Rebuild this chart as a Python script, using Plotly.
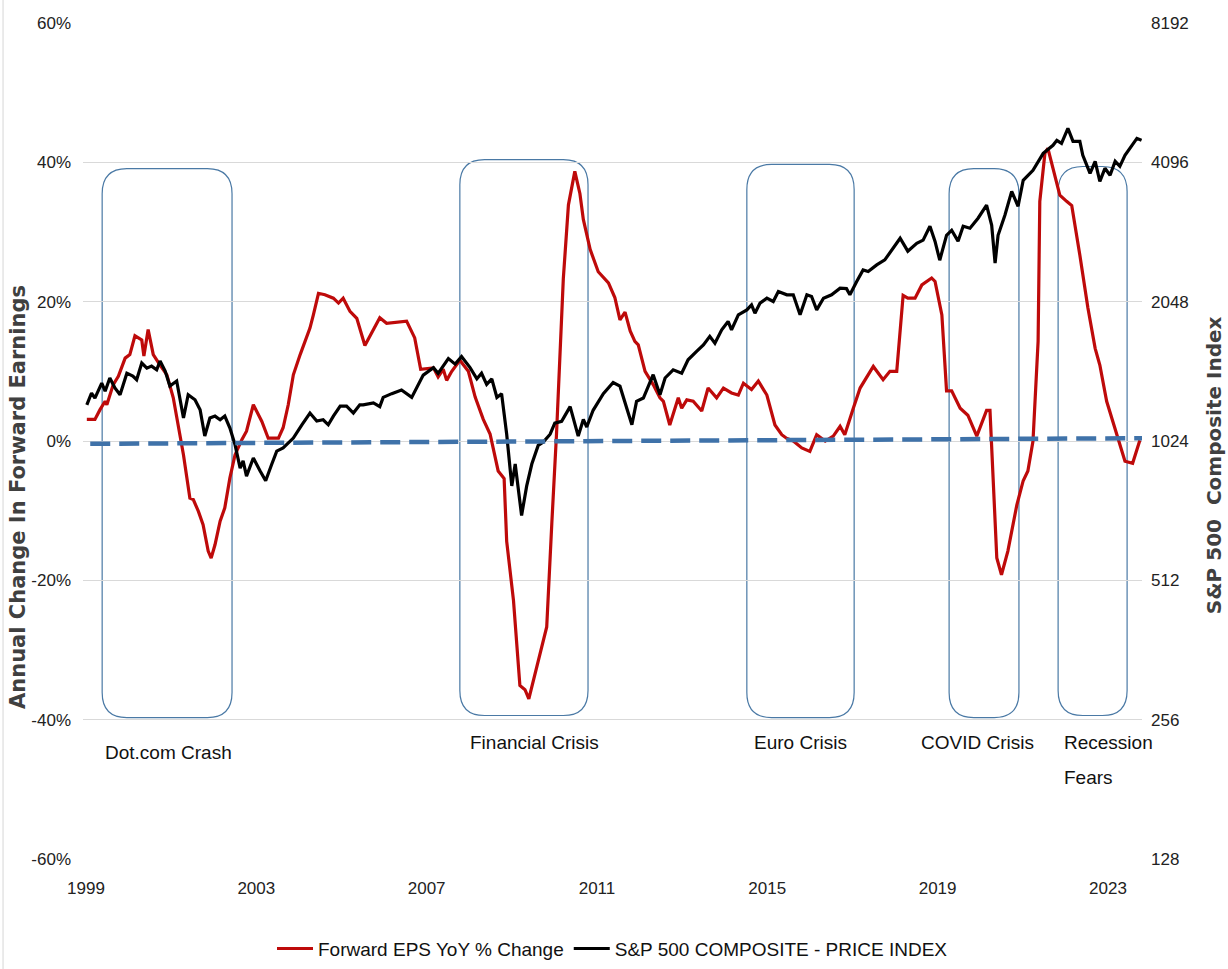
import plotly.graph_objects as go
import math

# ---------------- data ----------------
eps_year = [1999.02, 1999.21, 1999.33, 1999.45, 1999.49, 1999.64, 1999.76, 1999.92, 2000.03, 2000.15,
            2000.31, 2000.36, 2000.46, 2000.58, 2000.74, 2000.90, 2001.05, 2001.17, 2001.29, 2001.44,
            2001.52, 2001.64, 2001.75, 2001.87, 2001.94, 2002.03, 2002.15, 2002.26, 2002.38, 2002.50,
            2002.66, 2002.77, 2002.93, 2003.13, 2003.28, 2003.52, 2003.63, 2003.75, 2003.87, 2004.03,
            2004.14, 2004.26, 2004.34, 2004.46, 2004.61, 2004.81, 2004.93, 2005.04, 2005.20, 2005.36,
            2005.55, 2005.90, 2006.06, 2006.53, 2006.72, 2006.86, 2007.16, 2007.27, 2007.39, 2007.47,
            2007.59, 2007.78, 2007.98, 2008.14, 2008.33, 2008.49, 2008.68, 2008.82, 2008.88, 2009.04,
            2009.19, 2009.31, 2009.40, 2009.54, 2009.82, 2009.94, 2010.05, 2010.21, 2010.33, 2010.48,
            2010.60, 2010.68, 2010.84, 2011.03, 2011.27, 2011.42, 2011.54, 2011.66, 2011.78, 2011.89,
            2011.97, 2012.13, 2012.32, 2012.48, 2012.56, 2012.71, 2012.91, 2012.99, 2013.11, 2013.26,
            2013.46, 2013.61, 2013.81, 2013.97, 2014.16, 2014.32, 2014.44, 2014.63, 2014.79, 2014.99,
            2015.18, 2015.34, 2015.45, 2015.61, 2015.81, 2016.00, 2016.16, 2016.36, 2016.55, 2016.71,
            2016.82, 2017.02, 2017.18, 2017.49, 2017.72, 2017.88, 2018.04, 2018.19, 2018.30, 2018.47,
            2018.63, 2018.86, 2018.94, 2019.10, 2019.21, 2019.33, 2019.53, 2019.71, 2019.92, 2020.15,
            2020.23, 2020.39, 2020.50, 2020.65, 2020.86, 2021.01, 2021.12, 2021.24, 2021.36, 2021.40,
            2021.52, 2021.59, 2021.71, 2021.87, 2022.03, 2022.15, 2022.34, 2022.53, 2022.70, 2022.81,
            2022.97, 2023.21, 2023.40, 2023.58, 2023.75]
eps_pct = [3.1, 3.1, 4.5, 5.7, 5.2, 8.1, 9.3, 11.9, 12.4, 15.1,
           14.5, 12.2, 16.0, 12.4, 10.9, 9.5, 6.2, 1.9, -2.0, -8.2,
           -8.4, -10.1, -12.0, -15.8, -16.8, -14.9, -11.5, -9.6, -5.3, -2.0,
           0.2, 1.4, 5.2, 2.8, 0.4, 0.4, 1.9, 5.2, 9.5, 12.4,
           14.3, 16.2, 18.1, 21.2, 21.0, 20.5, 19.8, 20.5, 18.6, 17.6,
           13.7, 17.7, 16.9, 17.2, 14.8, 10.3, 10.5, 9.2, 10.3, 8.7,
           10.0, 11.6, 10.0, 6.3, 3.1, 1.0, -4.3, -5.4, -14.4, -22.9,
           -35.1, -35.7, -37.0, -33.5, -26.7, -11.8, 1.0, 23.3, 33.9, 38.7,
           35.5, 31.8, 27.5, 24.3, 22.7, 20.6, 17.4, 18.5, 15.8, 14.3,
           13.8, 10.0, 8.1, 6.2, 5.7, 2.3, 6.2, 4.7, 5.9, 5.7,
           4.3, 7.6, 6.2, 7.6, 6.9, 6.6, 8.3, 7.4, 8.6, 6.6,
           2.3, 0.9, 0.4, 0.0, -1.0, -1.5, 0.9, 0.0, 0.7, 2.1,
           0.9, 4.7, 7.6, 10.7, 8.8, 10.0, 10.0, 20.9, 20.5, 20.5,
           22.4, 23.4, 22.9, 18.1, 7.2, 7.2, 4.7, 3.7, 0.7, 4.4,
           4.4, -16.8, -19.2, -15.8, -9.2, -5.7, -4.3, 0.0, 14.3, 34.4,
           41.3, 42.0, 39.1, 35.3, 34.4, 33.8, 26.7, 19.1, 13.3, 10.9,
           5.7, 0.9, -2.9, -3.2, 0.1]

spx_year = [1999.02, 1999.13, 1999.21, 1999.37, 1999.45, 1999.56, 1999.68, 1999.80, 1999.96, 2000.10,
            2000.19, 2000.31, 2000.43, 2000.54, 2000.66, 2000.74, 2000.86, 2000.97, 2001.13, 2001.29,
            2001.40, 2001.56, 2001.68, 2001.79, 2001.91, 2002.03, 2002.15, 2002.26, 2002.38, 2002.50,
            2002.62, 2002.69, 2002.77, 2002.93, 2003.09, 2003.22, 2003.36, 2003.48, 2003.63, 2003.87,
            2004.07, 2004.26, 2004.42, 2004.57, 2004.69, 2004.81, 2004.97, 2005.12, 2005.28, 2005.43,
            2005.51, 2005.75, 2005.90, 2005.98, 2006.18, 2006.41, 2006.65, 2006.92, 2007.16, 2007.27,
            2007.51, 2007.67, 2007.82, 2008.02, 2008.18, 2008.29, 2008.41, 2008.53, 2008.65, 2008.76,
            2008.88, 2009.00, 2009.08, 2009.23, 2009.35, 2009.47, 2009.62, 2009.74, 2009.90, 2010.01,
            2010.17, 2010.37, 2010.56, 2010.68, 2010.76, 2010.91, 2011.15, 2011.38, 2011.54, 2011.82,
            2011.93, 2012.09, 2012.32, 2012.48, 2012.60, 2012.79, 2012.99, 2013.14, 2013.34, 2013.50,
            2013.65, 2013.77, 2013.93, 2014.08, 2014.16, 2014.32, 2014.52, 2014.63, 2014.71, 2014.83,
            2014.99, 2015.14, 2015.26, 2015.46, 2015.61, 2015.77, 2015.93, 2016.04, 2016.16, 2016.32,
            2016.51, 2016.71, 2016.86, 2016.94, 2017.10, 2017.25, 2017.37, 2017.57, 2017.76, 2017.92,
            2018.12, 2018.30, 2018.51, 2018.66, 2018.82, 2018.94, 2019.05, 2019.21, 2019.33, 2019.48,
            2019.60, 2019.76, 2019.95, 2020.15, 2020.27, 2020.35, 2020.42, 2020.58, 2020.74, 2020.89,
            2021.01, 2021.24, 2021.48, 2021.71, 2021.80, 2021.91, 2022.06, 2022.18, 2022.34, 2022.41,
            2022.58, 2022.70, 2022.81, 2022.93, 2023.05, 2023.17, 2023.28, 2023.40, 2023.68, 2023.79]
spx_price = [1226, 1300, 1268, 1366, 1312, 1401, 1333, 1289, 1435, 1414,
             1389, 1509, 1471, 1486, 1459, 1524, 1450, 1346, 1380, 1148,
             1289, 1257, 1196, 1050, 1148, 1159, 1138, 1159, 1092, 1005,
             895, 928, 860, 941, 882, 840, 911, 974, 989, 1039,
             1110, 1177, 1131, 1138, 1110, 1159, 1218, 1218, 1177, 1226,
             1226, 1238, 1215, 1272, 1296, 1320, 1272, 1421, 1475, 1434,
             1543, 1501, 1558, 1475, 1395, 1434, 1357, 1395, 1272, 1296,
             1059, 819, 913, 707, 819, 913, 1002, 1019, 1059, 1119,
             1129, 1215, 1049, 1140, 1098, 1193, 1296, 1370, 1345, 1110,
             1247, 1268, 1424, 1289, 1401, 1459, 1435, 1534, 1599, 1652,
             1723, 1666, 1780, 1856, 1780, 1918, 1966, 2016, 1934, 2033,
             2084, 2050, 2154, 2119, 2119, 1918, 2119, 2101, 1966, 2084,
             2119, 2190, 2185, 2119, 2264, 2399, 2380, 2459, 2521, 2649,
             2808, 2633, 2739, 2781, 2980, 2764, 2517, 2850, 2922, 2767,
             2980, 2951, 3102, 3309, 2995, 2480, 2850, 3148, 3546, 3292,
             3746, 3937, 4284, 4458, 4570, 4502, 4851, 4548, 4548, 4242,
             3878, 4117, 3727, 3976, 3840, 4117, 4016, 4242, 4615, 4570]

# reference (zero) line
zero_year = [1999.10, 2023.80]
zero_pct = [-0.4, 0.4]

# crisis periods
crisis_names = ["Dot.com Crash", "Financial Crisis", "Euro Crisis", "COVID Crisis", "Recession"]
crisis_start = [1999.38, 2007.78, 2014.52, 2019.27, 2021.83]
crisis_end = [2002.43, 2010.79, 2017.04, 2020.91, 2023.45]
crisis_top = [39.1, 40.4, 39.7, 39.1, 39.4]
crisis_bottom = [-39.7, -39.4, -39.7, -39.7, -39.4]

x_ticks = [1999, 2003, 2007, 2011, 2015, 2019, 2023]
y_ticks = [-60, -40, -20, 0, 20, 40, 60]
y_ticklabels = ["-60%", "-40%", "-20%", "0%", "20%", "40%", "60%"]
y2_ticks = [128, 256, 512, 1024, 2048, 4096, 8192]

# ---------------- figure ----------------
NARROW = "Liberation Sans Narrow, Arial Narrow, Liberation Sans, sans-serif"
RED = "#BE0A0A"
BOX = "#4A79A5"

fig = go.Figure()
fig.add_trace(go.Scatter(x=eps_year, y=eps_pct, mode="lines", name="Forward EPS YoY % Change",
                         line=dict(color=RED, width=3.2), yaxis="y"))
fig.add_trace(go.Scatter(x=spx_year, y=spx_price, mode="lines", name="S&P 500 COMPOSITE - PRICE INDEX",
                         line=dict(color="#000000", width=3.2), yaxis="y2"))

shapes = []
rx, ry = 0.58, 3.6
for x0, x1, yt, yb in zip(crisis_start, crisis_end, crisis_top, crisis_bottom):
    p = (f"M {x0+rx},{yt} L {x1-rx},{yt} Q {x1},{yt} {x1},{yt-ry} "
         f"L {x1},{yb+ry} Q {x1},{yb} {x1-rx},{yb} L {x0+rx},{yb} "
         f"Q {x0},{yb} {x0},{yb+ry} L {x0},{yt-ry} Q {x0},{yt} {x0+rx},{yt} Z")
    shapes.append(dict(type="path", path=p, xref="x", yref="y",
                       line=dict(color=BOX, width=1.2), layer="below"))
shapes.append(dict(type="line", xref="x", yref="y", x0=zero_year[0], x1=zero_year[1],
                   y0=zero_pct[0], y1=zero_pct[1], layer="above",
                   line=dict(color="#3F72A9", width=4.5, dash="20px,9px")))
shapes.append(dict(type="line", xref="paper", yref="paper", x0=-0.0755, x1=-0.0755,
                   y0=-0.14, y1=1.04, line=dict(color="#D6D6D6", width=1)))

ann = []
label_pos = [(2000.93, -44.7, "center"), (2009.54, -43.3, "center"), (2015.77, -43.3, "center"),
             (2019.93, -43.3, "center"), (2021.92, -43.3, "left")]
for name, (ax, ay, anc) in zip(crisis_names, label_pos):
    ann.append(dict(x=ax, y=ay, xref="x", yref="y", text=name, showarrow=False,
                    xanchor=anc, yanchor="middle", font=dict(family=NARROW, size=19, color="#111111")))
ann.append(dict(x=2021.92, y=-48.3, xref="x", yref="y", text="Fears", showarrow=False,
                xanchor="left", yanchor="middle", font=dict(family=NARROW, size=19, color="#111111")))
ann.append(dict(x=-0.0614, y=0.433, xref="paper", yref="paper", text="Annual Change In Forward Earnings",
                textangle=-90, showarrow=False, xanchor="center", yanchor="middle",
                font=dict(family="DejaVu Sans, sans-serif", size=21, color="#404040", weight="bold")))
ann.append(dict(x=1.068, y=0.471, xref="paper", yref="paper", text="S&amp;P 500  Composite Index",
                textangle=-90, showarrow=False, xanchor="center", yanchor="middle",
                font=dict(family="DejaVu Sans, sans-serif", size=20, color="#404040", weight="bold")))

fig.update_layout(
    width=1228, height=969,
    margin=dict(l=83, r=86, t=23, b=110, pad=0, autoexpand=False),
    paper_bgcolor="white", plot_bgcolor="white",
    showlegend=True,
    legend=dict(orientation="h", x=0.5, xanchor="center", yref="container", y=0.021, yanchor="middle",
                font=dict(family=NARROW, size=19, color="#111111"), itemwidth=36,
                bgcolor="rgba(0,0,0,0)"),
    xaxis=dict(range=[1998.93, 2023.80], tickvals=x_ticks, ticktext=[str(t) for t in x_ticks],
               showgrid=False, zeroline=False, showline=False, ticks="",
               ticklabelstandoff=17,
               tickfont=dict(family=NARROW, size=17, color="#222222")),
    yaxis=dict(range=[-60, 60], tickvals=y_ticks, ticktext=y_ticklabels,
               showgrid=True, gridcolor="#D9D9D9", gridwidth=1, zeroline=False, showline=False,
               ticks="", ticklabelstandoff=11,
               tickfont=dict(family=NARROW, size=17, color="#222222")),
    yaxis2=dict(type="log", range=[math.log10(128), math.log10(8192)], overlaying="y", side="right",
                tickvals=y2_ticks, ticktext=[str(t) for t in y2_ticks],
                showgrid=False, zeroline=False, showline=False, ticks="", ticklabelstandoff=8,
                tickfont=dict(family=NARROW, size=17, color="#222222")),
    shapes=shapes, annotations=ann,
)

fig.write_html("out.html", config={"displayModeBar": False},
               post_script="document.body.style.margin='0';")
